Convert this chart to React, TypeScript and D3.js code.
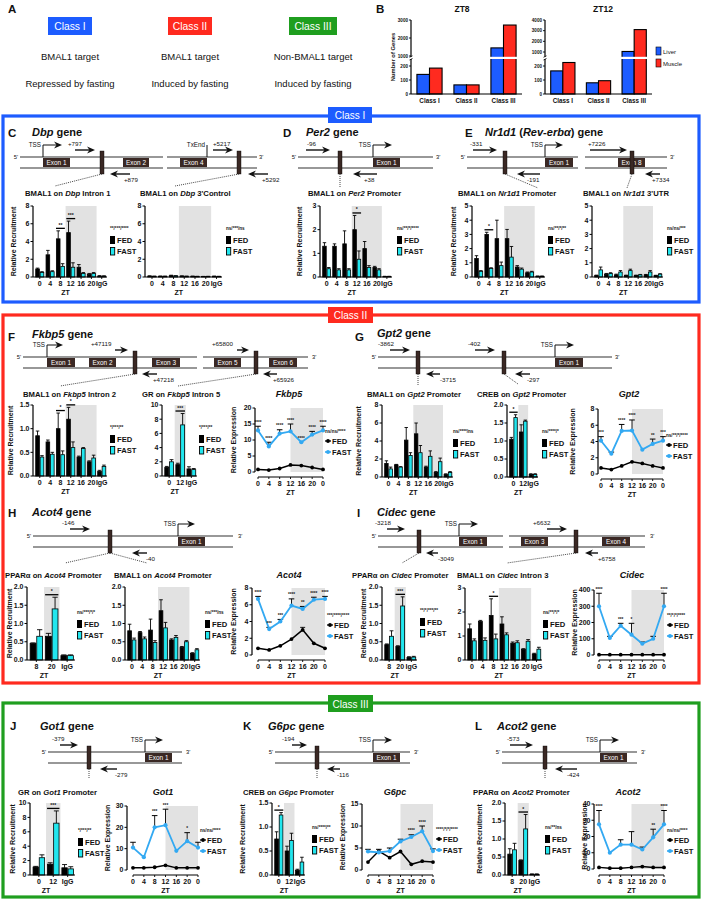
import React from "react";
import * as d3 from "d3";

const FONT = "Arial, 'Liberation Sans', Helvetica, sans-serif";
const CYAN = "#22e6ee";
const LBLUE = "#33a9f2";
const SHADE = "#e2e2e2";
const BROWN = "#3a2824";
const BLUE = "#1d5cff";
const RED = "#ff2a1f";
const GREEN = "#1f9e1f";

// ---------- Panel B data ----------
const bClasses = ["Class I", "Class II", "Class III"];
const zt8Liver = [140, 65, 1450];
const zt8Muscle = [185, 65, 2720];
const zt12Liver = [165, 80, 1050];
const zt12Muscle = [225, 95, 3100];
const bLowerTicks = [0, 100, 200];
const zt8UpperTicks = [1000, 2000, 3000];
const zt12UpperTicks = [1000, 2000, 3000, 4000];

// ---------- categories ----------
const ztBar = ["0", "4", "8", "12", "16", "20", "IgG"];
const ztBar3 = ["0", "12", "IgG"];
const ztBar8 = ["8", "20", "IgG"];
const ztLine = ["0", "4", "8", "12", "16", "20", "0"];

// ---------- C ----------
const dbpIntronFed = [0.9, 2.5, 4.3, 5.0, 1.1, 0.3, 0.1];
const dbpIntronFedErr = [0.1, 0.5, 0.9, 1.3, 0.3, 0.1, 0.05];
const dbpIntronFast = [0.5, 0.6, 1.2, 1.1, 0.4, 0.4, 0.1];
const dbpIntronFastErr = [0.1, 0.1, 0.3, 0.5, 0.1, 0.1, 0.03];
const dbpCtrlFed = [0.1, 0.08, 0.15, 0.1, 0.08, 0.05, 0.08];
const dbpCtrlFedErr = [0.03, 0.03, 0.05, 0.03, 0.02, 0.02, 0.02];
const dbpCtrlFast = [0.08, 0.08, 0.12, 0.08, 0.06, 0.06, 0.06];
const dbpCtrlFastErr = [0.02, 0.02, 0.03, 0.02, 0.02, 0.02, 0.02];
// ---------- D ----------
const per2Fed = [1.3, 1.3, 1.4, 2.0, 1.2, 0.4, 0.02];
const per2FedErr = [0.15, 0.1, 0.55, 0.6, 0.3, 0.05, 0.01];
const per2Fast = [0.35, 0.3, 0.3, 0.75, 0.4, 0.3, 0.02];
const per2FastErr = [0.05, 0.05, 0.05, 0.35, 0.08, 0.05, 0.01];
// ---------- E ----------
const nr1d1PromFed = [1.3, 3.0, 2.7, 2.7, 0.7, 0.3, 0.05];
const nr1d1PromFedErr = [0.2, 0.15, 1.3, 0.65, 0.1, 0.05, 0.02];
const nr1d1PromFast = [0.4, 0.6, 0.8, 1.4, 0.55, 0.35, 0.05];
const nr1d1PromFastErr = [0.05, 0.05, 0.25, 0.75, 0.08, 0.05, 0.02];
const nr1d1UtrFed = [0.1, 0.2, 0.15, 0.1, 0.1, 0.15, 0.1];
const nr1d1UtrFedErr = [0.03, 0.05, 0.05, 0.03, 0.03, 0.03, 0.02];
const nr1d1UtrFast = [0.5, 0.25, 0.35, 0.45, 0.15, 0.35, 0.2];
const nr1d1UtrFastErr = [0.2, 0.05, 0.1, 0.1, 0.03, 0.1, 0.03];
// ---------- F ----------
const fkbp5In2Fed = [0.85, 0.72, 1.0, 1.2, 0.4, 0.3, 0.1];
const fkbp5In2FedErr = [0.1, 0.04, 0.33, 0.25, 0.02, 0.02, 0.02];
const fkbp5In2Fast = [0.4, 0.46, 0.45, 0.6, 0.58, 0.38, 0.2];
const fkbp5In2FastErr = [0.03, 0.04, 0.08, 0.12, 0.02, 0.06, 0.03];
const fkbp5In5Fed = [1.2, 1.6, 1.0];
const fkbp5In5FedErr = [0.15, 0.2, 0.3];
const fkbp5In5Fast = [2.0, 7.2, 0.9];
const fkbp5In5FastErr = [0.3, 1.6, 0.15];
const fkbp5ExpFed = [0.8, 0.6, 1.1, 2.2, 2.0, 1.4, 0.8];
const fkbp5ExpFast = [13, 8, 12, 12.7, 9.3, 11.7, 13];
const fkbp5ExpFastErr = [1.3, 1.3, 1.2, 2.3, 0, 1, 1.3];
// ---------- G ----------
const gpt2BmalFed = [1.5, 1.35, 4.1, 4.8, 1.1, 0.5, 0.3];
const gpt2BmalFedErr = [0.3, 0.05, 1.4, 1.2, 0.1, 0.1, 0.05];
const gpt2BmalFast = [0.9, 1.1, 2.4, 2.7, 2.3, 1.7, 0.5];
const gpt2BmalFastErr = [0.2, 0.05, 0.3, 0.8, 0.6, 0.4, 0.1];
const gpt2CrebFed = [1.05, 1.25, 0.07];
const gpt2CrebFedErr = [0.05, 0.2, 0.02];
const gpt2CrebFast = [1.65, 1.55, 0.07];
const gpt2CrebFastErr = [0.08, 0.03, 0.02];
const gpt2ExpFed = [0.75, 0.55, 1.0, 1.5, 1.3, 1.0, 0.75];
const gpt2ExpFast = [4.1, 2.5, 5.3, 5.35, 3.0, 3.7, 4.1];
const gpt2ExpFastErr = [0.5, 0.2, 0.8, 1.3, 0, 0.6, 0.5];
// ---------- H ----------
const acot4PparFed = [0.45, 0.65, 0.12];
const acot4PparFedErr = [0.02, 0.08, 0.02];
const acot4PparFast = [0.65, 1.4, 0.12];
const acot4PparFastErr = [0.18, 0.32, 0.02];
const acot4BmalFed = [0.8, 0.75, 0.82, 1.35, 0.55, 0.35, 0.18];
const acot4BmalFedErr = [0.18, 0.03, 0.3, 0.3, 0.03, 0.02, 0.02];
const acot4BmalFast = [0.55, 0.58, 0.48, 0.88, 0.62, 0.5, 0.28];
const acot4BmalFastErr = [0.05, 0.05, 0.05, 0.15, 0.05, 0.03, 0.03];
const acot4ExpFed = [0.8, 0.6, 1.1, 1.9, 3.0, 1.4, 0.8];
const acot4ExpFedErr = [0, 0, 0, 0, 0.3, 0, 0];
const acot4ExpFast = [6.7, 3.1, 4.0, 5.9, 5.5, 6.6, 6.7];
const acot4ExpFastErr = [0.3, 0.2, 0.25, 0.8, 0.3, 0.3, 0.3];
// ---------- I ----------
const cidecPparFed = [0.42, 0.37, 0.07];
const cidecPparFedErr = [0.02, 0.02, 0.02];
const cidecPparFast = [0.65, 1.48, 0.08];
const cidecPparFastErr = [0.15, 0.25, 0.02];
const cidecBmalFed = [1.3, 1.6, 1.85, 1.5, 0.7, 0.45, 0.25];
const cidecBmalFedErr = [0.2, 0.05, 0.7, 0.3, 0.05, 0.02, 0.03];
const cidecBmalFast = [0.8, 0.82, 0.88, 1.05, 0.72, 0.78, 0.45];
const cidecBmalFastErr = [0.08, 0.1, 0.2, 0.08, 0.08, 0.07, 0.08];
const cidecExpFed = [2, 2, 2, 2, 2, 2, 2];
const cidecExpFast = [300, 105, 180, 125, 70, 100, 300];
const cidecExpFastErr = [80, 10, 15, 70, 10, 15, 80];
// ---------- J ----------
const got1GrFed = [1.1, 1.5, 1.0];
const got1GrFedErr = [0.1, 0.2, 0.45];
const got1GrFast = [2.4, 7.2, 0.85];
const got1GrFastErr = [0.4, 1.7, 0.3];
const got1ExpFed = [1, 1, 1.3, 2.2, 1, 1, 1];
const got1ExpFast = [10.5, 6, 20, 21, 9, 13.5, 10.5];
const got1ExpFastErr = [2.5, 0, 5.5, 7.5, 0, 4, 2.5];
// ---------- K ----------
const g6pcCrebFed = [0.75, 0.5, 0.1];
const g6pcCrebFedErr = [0.15, 0.1, 0.02];
const g6pcCrebFast = [1.25, 0.72, 0.27];
const g6pcCrebFastErr = [0.05, 0.15, 0.1];
const g6pcExpFed = [1.8, 4.3, 2.8, 4.2, 1.3, 2.0, 1.8];
const g6pcExpFast = [4.2, 4.0, 4.3, 6.5, 7.5, 8.8, 4.3];
const g6pcExpFastErr = [0.5, 0.7, 0.7, 0.5, 0.5, 1.2, 0.5];
// ---------- L ----------
const acot2PparFed = [0.58, 0.4, 0.02];
const acot2PparFedErr = [0.15, 0.02, 0.01];
const acot2PparFast = [0.7, 1.28, 0.02];
const acot2PparFastErr = [0.18, 0.4, 0.01];
const acot2ExpFed = [1, 0.5, 0.5, 1, 1.5, 1, 1];
const acot2ExpFast = [27.5, 10, 15, 15, 12, 19.5, 27.5];
const acot2ExpFastErr = [8.5, 0, 3, 8, 1.5, 5, 8.5];

// ---------- helpers ----------
function Title({ x, y, parts, anchor = "start", size = 7.7 }: any) {
  return (
    <text x={x} y={y} fontSize={size} fontWeight="bold" textAnchor={anchor}>
      {parts.map((p: any, i: number) => (
        <tspan key={i} fontStyle={p[1] ? "italic" : "normal"}>{p[0]}</tspan>
      ))}
    </text>
  );
}

function YLabel({ x, y, text }: any) {
  return (
    <text transform={`translate(${x},${y}) rotate(-90)`} fontSize={7} fontWeight="bold" textAnchor="middle">
      {text}
    </text>
  );
}

function BarLegend({ x, y, sig }: any) {
  return (
    <g>
      <text x={x} y={y + 1.5} fontSize={4.6} fontWeight="bold">{sig}</text>
      <rect x={x} y={y + 8} width={5} height={8} fill="#000" />
      <text x={x + 7} y={y + 15} fontSize={7.6} fontWeight="bold">FED</text>
      <rect x={x + 0.5} y={y + 19.5} width={4.2} height={7.5} fill={CYAN} stroke="#000" strokeWidth={0.9} />
      <text x={x + 7} y={y + 26} fontSize={7.6} fontWeight="bold">FAST</text>
    </g>
  );
}

function LineLegend({ x, y, sig }: any) {
  return (
    <g>
      <text x={x} y={y + 1.5} fontSize={4.6} fontWeight="bold">{sig}</text>
      <line x1={x} x2={x + 6} y1={y + 10} y2={y + 10} stroke="#000" strokeWidth={1.3} />
      <circle cx={x + 3} cy={y + 10} r={1.9} fill="#000" />
      <text x={x + 7} y={y + 12.7} fontSize={7.6} fontWeight="bold">FED</text>
      <line x1={x} x2={x + 6} y1={y + 21} y2={y + 21} stroke={LBLUE} strokeWidth={1.6} />
      <circle cx={x + 3} cy={y + 21} r={2} fill={LBLUE} />
      <text x={x + 7} y={y + 23.7} fontSize={7.6} fontWeight="bold">FAST</text>
    </g>
  );
}

function BarChart(p: any) {
  const y = d3.scaleLinear().domain([0, p.ymax]).range([p.bottom, p.top]);
  const ids = p.cats.map((_: string, i: number) => String(i));
  const xb = d3.scaleBand().domain(ids).range([p.x + 1.5, p.x + p.w]).paddingInner(0.14).paddingOuter(0.08);
  const bw = xb.bandwidth();
  const gap = (xb.step() - bw) / 2;
  const X = (i: number) => xb(String(i)) as number;
  const fmt = p.fmt ? d3.format(p.fmt) : (v: number) => String(v);
  const nz = p.cats.filter((c: string) => c !== "IgG").length;
  const ztX = (X(0) + X(nz - 1) + bw) / 2;
  const hw = bw / 2;
  const s0 = X(p.shade[0]) - gap;
  const s1 = X(p.shade[1]) + bw + gap;
  return (
    <g>
      <rect x={s0} y={p.top} width={s1 - s0} height={p.bottom - p.top} fill={SHADE} />
      {p.cats.map((_: string, i: number) => {
        const x0 = X(i);
        const bars: any[] = [
          [p.fed[i], p.fedErr[i], "#000", x0],
          [p.fast[i], p.fastErr[i], CYAN, x0 + hw],
        ];
        return (
          <g key={i}>
            {bars.map(([v, e, col, bx]: any, k: number) => (
              <g key={k}>
                <line x1={bx + hw / 2} x2={bx + hw / 2} y1={y(v)} y2={y(v + e)} stroke="#000" strokeWidth={0.9} />
                <line x1={bx + hw / 2 - hw * 0.4} x2={bx + hw / 2 + hw * 0.4} y1={y(v + e)} y2={y(v + e)} stroke="#000" strokeWidth={0.9} />
                <rect x={bx + 0.4} y={y(v)} width={hw - 0.8} height={p.bottom - y(v)} fill={col} stroke="#000" strokeWidth={0.8} />
              </g>
            ))}
          </g>
        );
      })}
      {(p.sig || []).map(([i, t]: any, k: number) => {
        const top = Math.max(p.fed[i] + p.fedErr[i], p.fast[i] + p.fastErr[i]);
        const yy = y(top) - 2.5;
        return (
          <g key={k}>
            <line x1={X(i)} x2={X(i) + bw} y1={yy} y2={yy} stroke="#000" strokeWidth={1.3} />
            <text x={X(i) + bw / 2} y={yy - 1.5} fontSize={5} fontWeight="bold" textAnchor="middle">{t}</text>
          </g>
        );
      })}
      <line x1={p.x} x2={p.x} y1={p.bottom} y2={p.top} stroke="#000" strokeWidth={1.2} />
      {p.ticks.map((t: number) => (
        <g key={t}>
          <line x1={p.x - 2.5} x2={p.x} y1={y(t)} y2={y(t)} stroke="#000" strokeWidth={1} />
          <text x={p.x - 3.5} y={y(t) + 2.4} fontSize={7} fontWeight="bold" textAnchor="end">{fmt(t)}</text>
        </g>
      ))}
      <line x1={p.x} x2={p.x + p.w} y1={p.bottom} y2={p.bottom} stroke="#000" strokeWidth={1.2} />
      {p.cats.map((c: string, i: number) => (
        <g key={i}>
          <line x1={X(i) + bw / 2} x2={X(i) + bw / 2} y1={p.bottom} y2={p.bottom + 2} stroke="#000" strokeWidth={0.9} />
          <text x={X(i) + bw / 2} y={p.bottom + 9} fontSize={7} fontWeight="bold" textAnchor="middle">{c}</text>
        </g>
      ))}
      <text x={ztX} y={p.bottom + 17.5} fontSize={7} fontWeight="bold" textAnchor="middle">ZT</text>
      {p.ylab !== undefined && <YLabel x={p.ylab} y={(p.top + p.bottom) / 2} text="Relative Recruitment" />}
      <Title x={p.title[0]} y={p.title[1]} parts={p.title[2]} />
      <BarLegend x={p.legend[0]} y={p.legend[1]} sig={p.legend[2]} />
    </g>
  );
}

function LineChart(p: any) {
  const y = d3.scaleLinear().domain([0, p.ymax]).range([p.bottom, p.top]);
  const xs = d3.scalePoint().domain(ztLine.map((_, i) => String(i))).range([p.xa, p.xb]);
  const X = (i: number) => xs(String(i)) as number;
  const line = d3.line<number>().x((_, i) => X(i)).y((v) => y(v));
  const fedErr = p.fedErr || p.fed.map(() => 0);
  return (
    <g>
      <rect x={X(3)} y={p.top} width={X(6) - X(3)} height={p.bottom - p.top} fill={SHADE} />
      <path d={line(p.fed) as string} fill="none" stroke="#000" strokeWidth={1.5} />
      {p.fed.map((v: number, i: number) => (
        <g key={i}>
          {fedErr[i] > 0 && (
            <g>
              <line x1={X(i)} x2={X(i)} y1={y(v)} y2={y(v + fedErr[i])} stroke="#000" strokeWidth={0.9} />
              <line x1={X(i) - 2.5} x2={X(i) + 2.5} y1={y(v + fedErr[i])} y2={y(v + fedErr[i])} stroke="#000" strokeWidth={0.9} />
            </g>
          )}
          <circle cx={X(i)} cy={y(v)} r={1.9} fill="#000" />
        </g>
      ))}
      {p.fast.map((v: number, i: number) =>
        p.fastErr[i] > 0 ? (
          <g key={i}>
            <line x1={X(i)} x2={X(i)} y1={y(v)} y2={y(v + p.fastErr[i])} stroke="#000" strokeWidth={0.9} />
            <line x1={X(i) - 2.8} x2={X(i) + 2.8} y1={y(v + p.fastErr[i])} y2={y(v + p.fastErr[i])} stroke="#000" strokeWidth={1} />
          </g>
        ) : null
      )}
      <path d={line(p.fast) as string} fill="none" stroke={LBLUE} strokeWidth={1.8} />
      {p.fast.map((v: number, i: number) => (
        <circle key={i} cx={X(i)} cy={y(v)} r={2.1} fill={LBLUE} />
      ))}
      {p.sig.map(([i, t]: any, k: number) => (
        <text key={k} x={X(i)} y={y(p.fast[i] + p.fastErr[i]) - 2.5} fontSize={4.6} fontWeight="bold" textAnchor="middle">{t}</text>
      ))}
      <line x1={p.x} x2={p.x} y1={p.bottom} y2={p.top} stroke="#000" strokeWidth={1.2} />
      {p.ticks.map((t: number) => (
        <g key={t}>
          <line x1={p.x - 2.5} x2={p.x} y1={y(t)} y2={y(t)} stroke="#000" strokeWidth={1} />
          <text x={p.x - 3.5} y={y(t) + 2.4} fontSize={7} fontWeight="bold" textAnchor="end">{t}</text>
        </g>
      ))}
      <line x1={p.xa} x2={p.xb} y1={p.axisY} y2={p.axisY} stroke="#000" strokeWidth={1.2} />
      {ztLine.map((c, i) => (
        <g key={i}>
          <line x1={X(i)} x2={X(i)} y1={p.axisY} y2={p.axisY + 2} stroke="#000" strokeWidth={0.9} />
          <text x={X(i)} y={p.axisY + 9} fontSize={7} fontWeight="bold" textAnchor="middle">{c}</text>
        </g>
      ))}
      <text x={(p.xa + p.xb) / 2} y={p.axisY + 17.5} fontSize={7} fontWeight="bold" textAnchor="middle">ZT</text>
      <YLabel x={p.ylab} y={(p.top + p.bottom) / 2} text="Relative Expression" />
      <text x={p.title[0]} y={p.title[1]} fontSize={9} fontWeight="bold" fontStyle="italic" textAnchor="middle">{p.title[2]}</text>
      <LineLegend x={p.legend[0]} y={p.legend[1]} sig={p.legend[2]} />
    </g>
  );
}

function Gene({ g }: any) {
  const y0 = g.y0;
  const y1 = g.y0 + 11;
  const head = (tx: number, ty: number, dir: number) =>
    `M${tx},${ty} L${tx - dir * 8},${ty - 3.5} L${tx - dir * 5.5},${ty} L${tx - dir * 8},${ty + 3.5}Z`;
  return (
    <g>
      {g.segs.map(([a, b]: any, i: number) => (
        <g key={i}>
          <line x1={a} x2={b} y1={y0} y2={y0} stroke="#333" strokeWidth={1.2} />
          <line x1={a} x2={b} y1={y1} y2={y1} stroke="#333" strokeWidth={1.2} />
        </g>
      ))}
      <text x={g.five} y={y0 + 2} fontSize={5.8} textAnchor="end">5'</text>
      <text x={g.three} y={y0 + 2} fontSize={5.8}>3'</text>
      {g.exons.map(([a, b, l]: any, i: number) => (
        <g key={i}>
          <rect x={a} y={y0 + 1} width={b - a} height={9} fill={BROWN} />
          <text x={(a + b) / 2} y={y0 + 7.8} fontSize={6.4} fill="#fff" textAnchor="middle">{l}</text>
        </g>
      ))}
      {g.dots.map(([a, b, c, d]: any, i: number) => (
        <line key={i} x1={a} y1={b} x2={c} y2={d} stroke="#333" strokeWidth={0.9} strokeDasharray="1 1" />
      ))}
      {g.sites.map((x: number, i: number) => (
        <rect key={i} x={x - 2} y={y0 - 6} width={4} height={23} fill={BROWN} stroke="#000" strokeWidth={0.4} />
      ))}
      {g.tss.map((t: any, i: number) => (
        <g key={i}>
          <path d={`M${t.x},${y0} V${y0 - 12}` + (t.arrow ? ` H${t.x2 - 5}` : "")} fill="none" stroke="#111" strokeWidth={1} />
          {t.arrow && <path d={head(t.x2, y0 - 12, 1)} fill="#111" />}
          <text x={t.x - 2} y={y0 - 10} fontSize={6.3} textAnchor="end">{t.label}</text>
        </g>
      ))}
      {g.fwd.map((a: any, i: number) => (
        <g key={i}>
          <line x1={a.x1} x2={a.x2 - 5} y1={y0 - 7} y2={y0 - 7} stroke="#111" strokeWidth={1.4} />
          <path d={head(a.x2, y0 - 7, 1)} fill="#111" />
          <text x={a.lx} y={y0 - 11} fontSize={6.2}>{a.label}</text>
        </g>
      ))}
      {g.rev.map((a: any, i: number) => (
        <g key={i}>
          <line x1={a.x1 + 5} x2={a.x2} y1={y0 + 17} y2={y0 + 17} stroke="#111" strokeWidth={1.4} />
          <path d={head(a.x1, y0 + 17, -1)} fill="#111" />
          <text x={a.lx} y={y0 + 25} fontSize={6.2}>{a.label}</text>
        </g>
      ))}
    </g>
  );
}

const tss = (x: number, x2: number) => ({ x, x2, label: "TSS", arrow: true });

const geneC = {
  y0: 157, segs: [[20, 163], [167, 257]], five: 18, three: 259,
  exons: [[43, 70, "Exon 1"], [123, 149, "Exon 2"], [180, 207, "Exon 4"]], sites: [102, 239],
  tss: [tss(43, 62), { x: 207, x2: 207, label: "TxEnd", arrow: false }],
  fwd: [{ x1: 75, x2: 95, label: "+797", lx: 68 }, { x1: 213, x2: 233, label: "+5217", lx: 213 }],
  rev: [{ x1: 110, x2: 130, label: "+879", lx: 124 }, { x1: 248, x2: 268, label: "+5292", lx: 262 }],
  dots: [[102, 174, 55, 186], [239, 174, 175, 186]],
};
const geneD = {
  y0: 157, segs: [[298, 433]], five: 296, three: 436, exons: [[373, 400, "Exon 1"]], sites: [340],
  tss: [tss(373, 392)], fwd: [{ x1: 306, x2: 330, label: "-96", lx: 307 }],
  rev: [{ x1: 353, x2: 377, label: "+38", lx: 364 }], dots: [[340, 174, 340, 187]],
};
const geneE = {
  y0: 157, segs: [[467, 578], [585, 667]], five: 465, three: 670,
  exons: [[545, 573, "Exon 1"], [618, 645, "Exon 8"]], sites: [505, 632], tss: [tss(545, 563)],
  fwd: [{ x1: 473, x2: 497, label: "-331", lx: 470 }, { x1: 590, x2: 627, label: "+7226", lx: 588 }],
  rev: [{ x1: 517, x2: 540, label: "-191", lx: 527 }, { x1: 645, x2: 660, label: "+7334", lx: 652 }],
  dots: [[505, 174, 538, 188], [632, 174, 627, 188]],
};
const geneF = {
  y0: 357, segs: [[23, 197], [203, 308]], five: 21, three: 312,
  exons: [[47, 75, "Exon 1"], [89, 116, "Exon 2"], [152, 180, "Exon 3"], [214, 241, "Exon 5"], [269, 297, "Exon 6"]],
  sites: [135, 256], tss: [tss(47, 63)],
  fwd: [{ x1: 115, x2: 128, label: "+47119", lx: 91 }, { x1: 237, x2: 249, label: "+65800", lx: 212 }],
  rev: [{ x1: 142, x2: 157, label: "+47218", lx: 153 }, { x1: 263, x2: 277, label: "+65926", lx: 273 }],
  dots: [[135, 374, 60, 386], [256, 374, 178, 386]],
};
const geneG = {
  y0: 357, segs: [[378, 612]], five: 376, three: 615, exons: [[555, 583, "Exon 1"]], sites: [418, 504],
  tss: [tss(555, 574)],
  fwd: [{ x1: 390, x2: 410, label: "-3862", lx: 378 }, { x1: 475, x2: 495, label: "-402", lx: 468 }],
  rev: [{ x1: 426, x2: 440, label: "-3715", lx: 440 }, { x1: 515, x2: 530, label: "-297", lx: 527 }],
  dots: [[418, 374, 418, 386], [504, 374, 518, 384]],
};
const geneH = {
  y0: 536, segs: [[33, 233]], five: 31, three: 238, exons: [[178, 205, "Exon 1"]], sites: [110],
  tss: [tss(178, 195)], fwd: [{ x1: 70, x2: 90, label: "-146", lx: 62 }],
  rev: [{ x1: 132, x2: 147, label: "-40", lx: 146 }], dots: [[110, 553, 65, 563], [110, 553, 147, 563]],
};
const geneI = {
  y0: 536, segs: [[378, 503], [509, 645]], five: 376, three: 650,
  exons: [[459, 487, "Exon 1"], [521, 548, "Exon 3"], [602, 630, "Exon 4"]], sites: [419, 576],
  tss: [tss(459, 478)],
  fwd: [{ x1: 387, x2: 405, label: "-3218", lx: 375 }, { x1: 547, x2: 567, label: "+6632", lx: 533 }],
  rev: [{ x1: 426, x2: 438, label: "-3049", lx: 438 }, { x1: 585, x2: 598, label: "+6758", lx: 598 }],
  dots: [[419, 553, 402, 563], [576, 553, 507, 563]],
};
const geneJ = {
  y0: 752, segs: [[48, 182]], five: 46, three: 186, exons: [[145, 172, "Exon 1"]], sites: [89],
  tss: [tss(145, 163)], fwd: [{ x1: 60, x2: 78, label: "-379", lx: 52 }],
  rev: [{ x1: 100, x2: 117, label: "-279", lx: 115 }], dots: [[89, 769, 89, 778]],
};
const geneK = {
  y0: 752, segs: [[275, 410]], five: 273, three: 414, exons: [[373, 400, "Exon 1"]], sites: [317],
  tss: [tss(373, 392)], fwd: [{ x1: 292, x2: 307, label: "-194", lx: 282 }],
  rev: [{ x1: 327, x2: 340, label: "-116", lx: 337 }], dots: [[317, 769, 317, 778]],
};
const geneL = {
  y0: 752, segs: [[502, 637]], five: 500, three: 641, exons: [[600, 627, "Exon 1"]], sites: [545],
  tss: [tss(600, 619)], fwd: [{ x1: 510, x2: 533, label: "-573", lx: 507 }],
  rev: [{ x1: 555, x2: 577, label: "-424", lx: 567 }], dots: [[545, 769, 545, 778]],
};

function PanelB({ x0, w, title, titleX, liver, muscle, upperTicks, upperMax, upperBottom }: any) {
  const yLow = d3.scaleLinear().domain([0, 200]).range([94, 66]);
  const yUp = d3.scaleLinear().domain([1000, upperMax]).range([upperBottom, 20]);
  const xb = d3.scaleBand().domain(bClasses).range([x0, x0 + w]).paddingInner(0.32).paddingOuter(0.16);
  const bw = xb.bandwidth();
  const yv = (v: number) => (v > 1000 ? yUp(v) : yLow(v));
  return (
    <g>
      <text x={titleX} y={12} fontSize={8.5} fontWeight="bold" textAnchor="middle">{title}</text>
      {bClasses.map((c, i) => {
        const bx = xb(c) as number;
        return (
          <g key={c}>
            <rect x={bx} y={yv(liver[i])} width={bw / 2} height={94 - yv(liver[i])} fill={BLUE} stroke="#000" strokeWidth={1.1} />
            <rect x={bx + bw / 2} y={yv(muscle[i])} width={bw / 2} height={94 - yv(muscle[i])} fill={RED} stroke="#000" strokeWidth={1.1} />
            <text x={bx + bw / 2} y={103} fontSize={6.3} fontWeight="bold" textAnchor="middle">{c}</text>
          </g>
        );
      })}
      <rect x={x0 - 3} y={56.8} width={w + 3} height={2.2} fill="#fff" />
      <line x1={x0} x2={x0} y1={94} y2={59} stroke="#000" strokeWidth={1.2} />
      <line x1={x0} x2={x0} y1={56.8} y2={20} stroke="#000" strokeWidth={1.2} />
      <line x1={x0 - 1.5} x2={x0 + 1.5} y1={60} y2={58.5} stroke="#000" strokeWidth={0.8} />
      <line x1={x0 - 1.5} x2={x0 + 1.5} y1={57.3} y2={55.8} stroke="#000" strokeWidth={0.8} />
      <line x1={x0} x2={x0 + w} y1={94} y2={94} stroke="#000" strokeWidth={1.2} />
      {bLowerTicks.map((t) => (
        <g key={t}>
          <line x1={x0 - 2} x2={x0} y1={yLow(t)} y2={yLow(t)} stroke="#000" strokeWidth={0.9} />
          <text x={x0 - 3} y={yLow(t) + 1.6} fontSize={4.6} fontWeight="bold" textAnchor="end">{t}</text>
        </g>
      ))}
      {upperTicks.map((t: number) => (
        <g key={t}>
          <line x1={x0 - 2} x2={x0} y1={yUp(t)} y2={yUp(t)} stroke="#000" strokeWidth={0.9} />
          <text x={x0 - 3} y={yUp(t) + 1.6} fontSize={4.6} fontWeight="bold" textAnchor="end">{t}</text>
        </g>
      ))}
    </g>
  );
}

export default function App() {
  return (
    <svg width={702} height={900} style={{ position: "absolute", left: 0, top: 0, fontFamily: FONT }} fill="#111">
      <rect x={0} y={0} width={702} height={900} fill="#fff" />

      {/* Panel A */}
      <text x={8} y={13} fontSize={11.5} fontWeight="bold">A</text>
      {[
        [70, 44, "Class I", BLUE, "BMAL1 target", "Repressed by fasting"],
        [190, 44, "Class II", RED, "BMAL1 target", "Induced by fasting"],
        [313, 48, "Class III", GREEN, "Non-BMAL1 target", "Induced by fasting"],
      ].map(([cx, bw, lab, col, l1, l2]: any) => (
        <g key={lab}>
          <rect x={cx - bw / 2} y={17} width={bw} height={18} fill={col} />
          <text x={cx} y={29.8} fontSize={10.3} fill="#fff" textAnchor="middle">{lab}</text>
          <text x={cx} y={60} fontSize={9.5} textAnchor="middle">{l1}</text>
          <text x={cx} y={87} fontSize={9.5} textAnchor="middle">{l2}</text>
        </g>
      ))}

      {/* Panel B */}
      <text x={376} y={13} fontSize={11.5} fontWeight="bold">B</text>
      <text transform="translate(395,57) rotate(-90)" fontSize={5.8} fontWeight="bold" textAnchor="middle">Number of Genes</text>
      <PanelB x0={411} w={111} title="ZT8" titleX={462} liver={zt8Liver} muscle={zt8Muscle} upperTicks={zt8UpperTicks} upperMax={3000} upperBottom={56} />
      <PanelB x0={545} w={107} title="ZT12" titleX={603} liver={zt12Liver} muscle={zt12Muscle} upperTicks={zt12UpperTicks} upperMax={4000} upperBottom={52} />
      <rect x={656} y={47} width={5} height={8} fill={BLUE} stroke="#000" strokeWidth={0.6} />
      <text x={663} y={54} fontSize={6}>Liver</text>
      <rect x={656} y={59} width={5} height={8} fill={RED} stroke="#000" strokeWidth={0.6} />
      <text x={663} y={66} fontSize={6}>Muscle</text>

      {/* Class frames */}
      <rect x={3} y={116} width={696} height={186} fill="none" stroke={BLUE} strokeWidth={3.2} />
      <rect x={328} y={107} width={44} height={16} fill={BLUE} />
      <text x={350} y={119} fontSize={10} fill="#fff" textAnchor="middle">Class I</text>
      <rect x={3} y={315} width={696} height={368} fill="none" stroke={RED} strokeWidth={3.2} />
      <rect x={328} y={307} width={45} height={16} fill={RED} />
      <text x={350.5} y={319} fontSize={10} fill="#fff" textAnchor="middle">Class II</text>
      <rect x={3} y={703} width={696} height={194} fill="none" stroke={GREEN} strokeWidth={3.2} />
      <rect x={328} y={695} width={45} height={17} fill={GREEN} />
      <text x={350.5} y={707.5} fontSize={10} fill="#fff" textAnchor="middle">Class III</text>

      {/* Row C-E */}
      <text x={8} y={137} fontSize={11.5} fontWeight="bold">C</text>
      <Title x={32} y={136} size={11} parts={[["Dbp", true], [" gene", false]]} />
      <text x={283} y={137} fontSize={11.5} fontWeight="bold">D</text>
      <Title x={306} y={136} size={11} parts={[["Per2", true], [" gene", false]]} />
      <text x={465} y={137} fontSize={11.5} fontWeight="bold">E</text>
      <Title x={485} y={136} size={11} parts={[["Nr1d1", true], [" (", false], ["Rev-erbα", true], [") gene", false]]} />
      <Gene g={geneC} />
      <Gene g={geneD} />
      <Gene g={geneE} />
      <BarChart x={33} w={74} top={206} bottom={277} ymax={8} ticks={[0, 2, 4, 6, 8]} cats={ztBar}
        fed={dbpIntronFed} fedErr={dbpIntronFedErr} fast={dbpIntronFast} fastErr={dbpIntronFastErr}
        shade={[3, 5]} sig={[[2, "**"], [3, "***"]]} ylab={16}
        title={[25, 196, [["BMAL1 on ", false], ["Dbp", true], [" Intron 1", false]]]} legend={[110, 228, "**/***/****"]} />
      <BarChart x={145} w={77} top={206} bottom={277} ymax={8} ticks={[0, 2, 4, 6, 8]} cats={ztBar}
        fed={dbpCtrlFed} fedErr={dbpCtrlFedErr} fast={dbpCtrlFast} fastErr={dbpCtrlFastErr}
        shade={[3, 5]} title={[140, 196, [["BMAL1 on ", false], ["Dbp", true], [" 3'Control", false]]]} legend={[226, 228, "ns/***/ns"]} />
      <BarChart x={320} w={72} top={206} bottom={277} ymax={3} ticks={[0, 1, 2, 3]} cats={ztBar}
        fed={per2Fed} fedErr={per2FedErr} fast={per2Fast} fastErr={per2FastErr}
        shade={[3, 5]} sig={[[3, "*"]]} ylab={302}
        title={[308, 196, [["BMAL1 on ", false], ["Per2", true], [" Promoter", false]]]} legend={[397, 228, "ns/**/*/****"]} />
      <BarChart x={472} w={73} top={206} bottom={277} ymax={5} ticks={[0, 1, 2, 3, 4, 5]} cats={ztBar}
        fed={nr1d1PromFed} fedErr={nr1d1PromFedErr} fast={nr1d1PromFast} fastErr={nr1d1PromFastErr}
        shade={[3, 5]} sig={[[1, "*"]]} ylab={456}
        title={[458, 196, [["BMAL1 on ", false], ["Nr1d1", true], [" Promoter", false]]]} legend={[548, 228, "ns/**/*/**"]} />
      <BarChart x={592} w={71} top={206} bottom={277} ymax={5} ticks={[0, 1, 2, 3, 4, 5]} cats={ztBar}
        fed={nr1d1UtrFed} fedErr={nr1d1UtrFedErr} fast={nr1d1UtrFast} fastErr={nr1d1UtrFastErr}
        shade={[3, 5]} title={[583, 196, [["BMAL1 on ", false], ["Nr1d1", true], [" 3'UTR", false]]]} legend={[667, 228, "ns/ns/***"]} />

      {/* Row F-G */}
      <text x={8} y={341} fontSize={11.5} fontWeight="bold">F</text>
      <Title x={32} y={338} size={11} parts={[["Fkbp5", true], [" gene", false]]} />
      <text x={355} y={341} fontSize={11.5} fontWeight="bold">G</text>
      <Title x={377} y={337} size={11} parts={[["Gpt2", true], [" gene", false]]} />
      <Gene g={geneF} />
      <Gene g={geneG} />
      <BarChart x={33} w={74} top={405} bottom={476} ymax={1.5} ticks={[0, 0.5, 1, 1.5]} fmt=".1f" cats={ztBar}
        fed={fkbp5In2Fed} fedErr={fkbp5In2FedErr} fast={fkbp5In2Fast} fastErr={fkbp5In2FastErr}
        shade={[3, 5]} sig={[[2, "*"], [3, "*"]]} ylab={13}
        title={[23, 397, [["BMAL1 on ", false], ["Fkbp5", true], [" Intron 2", false]]]} legend={[110, 427, "*/***/**"]} />
      <BarChart x={162} w={35} top={405} bottom={476} ymax={10} ticks={[0, 2, 4, 6, 8, 10]} cats={ztBar3}
        fed={fkbp5In5Fed} fedErr={fkbp5In5FedErr} fast={fkbp5In5Fast} fastErr={fkbp5In5FastErr}
        shade={[1, 1]} sig={[[1, "***"]]}
        title={[142, 397, [["GR on ", false], ["Fkbp5", true], [" Intron 5", false]]]} legend={[199, 427, "*/***/**"]} />
      <LineChart x={255} xa={258} xb={323} top={408} bottom={472} axisY={477} ymax={20} ticks={[0, 5, 10, 15, 20]}
        fed={fkbp5ExpFed} fast={fkbp5ExpFast} fastErr={fkbp5ExpFastErr}
        sig={[[0, "****"], [1, "****"], [2, "****"], [3, "****"], [4, "****"], [5, "****"], [6, "****"]]}
        ylab={236} title={[289, 397, "Fkbp5"]} legend={[325, 431, "ns/ns/****"]} />
      <BarChart x={382} w={71} top={405} bottom={477} ymax={8} ticks={[0, 2, 4, 6, 8]} cats={ztBar}
        fed={gpt2BmalFed} fedErr={gpt2BmalFedErr} fast={gpt2BmalFast} fastErr={gpt2BmalFastErr}
        shade={[3, 5]} ylab={361}
        title={[367, 397, [["BMAL1 on ", false], ["Gpt2", true], [" Promoter", false]]]} legend={[453, 431, "ns/****/ns"]} />
      <BarChart x={507} w={31} top={405} bottom={477} ymax={2} ticks={[0, 0.5, 1, 1.5, 2]} fmt=".1f" cats={ztBar3}
        fed={gpt2CrebFed} fedErr={gpt2CrebFedErr} fast={gpt2CrebFast} fastErr={gpt2CrebFastErr}
        shade={[1, 1]} sig={[[0, "*"]]}
        title={[477, 397, [["CREB on ", false], ["Gpt2", true], [" Promoter", false]]]} legend={[542, 431, "ns/****/*"]} />
      <LineChart x={598} xa={601} xb={663} top={409} bottom={474} axisY={479} ymax={8} ticks={[0, 2, 4, 6, 8]}
        fed={gpt2ExpFed} fast={gpt2ExpFast} fastErr={gpt2ExpFastErr}
        sig={[[0, "***"], [2, "****"], [3, "****"], [5, "**"], [6, "***"]]}
        ylab={575} title={[629, 397, "Gpt2"]} legend={[666, 435, "ns/**/*/****"]} />

      {/* Row H-I */}
      <text x={8} y={517} fontSize={11.5} fontWeight="bold">H</text>
      <Title x={32} y={516} size={11} parts={[["Acot4", true], [" gene", false]]} />
      <text x={357} y={517} fontSize={11.5} fontWeight="bold">I</text>
      <Title x={377} y={516} size={11} parts={[["Cidec", true], [" gene", false]]} />
      <Gene g={geneH} />
      <Gene g={geneI} />
      <BarChart x={27} w={48} top={587} bottom={660} ymax={2} ticks={[0, 0.5, 1, 1.5, 2]} fmt=".1f" cats={ztBar8}
        fed={acot4PparFed} fedErr={acot4PparFedErr} fast={acot4PparFast} fastErr={acot4PparFastErr}
        shade={[1, 1]} sig={[[1, "*"]]} ylab={12}
        title={[5, 578, [["PPARα on ", false], ["Acot4", true], [" Promoter", false]]]} legend={[77, 612, "ns/***/*/*"]} />
      <BarChart x={125} w={75} top={587} bottom={660} ymax={2} ticks={[0, 0.5, 1, 1.5, 2]} fmt=".1f" cats={ztBar}
        fed={acot4BmalFed} fedErr={acot4BmalFedErr} fast={acot4BmalFast} fastErr={acot4BmalFastErr}
        shade={[3, 5]}
        title={[114, 578, [["BMAL1 on ", false], ["Acot4", true], [" Promoter", false]]]} legend={[205, 612, "ns/***/ns"]} />
      <LineChart x={252} xa={258} xb={325} top={588} bottom={655} axisY={660} ymax={8} ticks={[0, 2, 4, 6, 8]}
        fed={acot4ExpFed} fedErr={acot4ExpFedErr} fast={acot4ExpFast} fastErr={acot4ExpFastErr}
        sig={[[0, "****"], [1, "***"], [2, "***"], [3, "****"], [4, "**"], [5, "****"], [6, "****"]]}
        ylab={236} title={[289, 578, "Acot4"]} legend={[327, 615, "***/****/****"]} />
      <BarChart x={382} w={35} top={587} bottom={660} ymax={2} ticks={[0, 0.5, 1, 1.5, 2]} fmt=".1f" cats={ztBar8}
        fed={cidecPparFed} fedErr={cidecPparFedErr} fast={cidecPparFast} fastErr={cidecPparFastErr}
        shade={[1, 1]} sig={[[1, "***"]]} ylab={366}
        title={[352, 578, [["PPARα on ", false], ["Cidec", true], [" Promoter", false]]]} legend={[420, 610, "**/*/***/**"]} />
      <BarChart x={465} w={77} top={588} bottom={660} ymax={3} ticks={[0, 1, 2, 3]} cats={ztBar}
        fed={cidecBmalFed} fedErr={cidecBmalFedErr} fast={cidecBmalFast} fastErr={cidecBmalFastErr}
        shade={[3, 5]} sig={[[2, "*"]]}
        title={[457, 578, [["BMAL1 on ", false], ["Cidec", true], [" Intron 3", false]]]} legend={[543, 612, "ns/**/*/*"]} />
      <LineChart x={594} xa={599} xb={664} top={590} bottom={655} axisY={660} ymax={400} ticks={[0, 100, 200, 300, 400]}
        fed={cidecExpFed} fast={cidecExpFast} fastErr={cidecExpFastErr}
        sig={[[0, "****"], [2, "***"], [3, "*"], [6, "****"]]}
        ylab={577} title={[632, 578, "Cidec"]} legend={[667, 615, "**/*/*/****"]} />

      {/* Row J-L */}
      <text x={10} y={730} fontSize={11.5} fontWeight="bold">J</text>
      <Title x={40} y={730} size={11} parts={[["Got1", true], [" gene", false]]} />
      <text x={243} y={730} fontSize={11.5} fontWeight="bold">K</text>
      <Title x={268} y={730} size={11} parts={[["G6pc", true], [" gene", false]]} />
      <text x={475} y={730} fontSize={11.5} fontWeight="bold">L</text>
      <Title x={497} y={730} size={11} parts={[["Acot2", true], [" gene", false]]} />
      <Gene g={geneJ} />
      <Gene g={geneK} />
      <Gene g={geneL} />
      <BarChart x={30} w={45} top={803} bottom={875} ymax={10} ticks={[0, 2, 4, 6, 8, 10]} cats={ztBar3}
        fed={got1GrFed} fedErr={got1GrFedErr} fast={got1GrFast} fastErr={got1GrFastErr}
        shade={[1, 1]} sig={[[1, "***"]]} ylab={15}
        title={[18, 795, [["GR on ", false], ["Got1", true], [" Promoter", false]]]} legend={[78, 830, "*/***/**"]} />
      <LineChart x={127} xa={133} xb={198} top={806} bottom={870} axisY={875} ymax={30} ticks={[0, 10, 20, 30]}
        fed={got1ExpFed} fast={got1ExpFast} fastErr={got1ExpFastErr}
        sig={[[2, "***"], [3, "***"], [5, "*"]]}
        ylab={110} title={[163, 795, "Got1"]} legend={[200, 830, "ns/ns/****"]} />
      <BarChart x={272} w={33} top={803} bottom={875} ymax={1.5} ticks={[0, 0.5, 1, 1.5]} fmt=".1f" cats={ztBar3}
        fed={g6pcCrebFed} fedErr={g6pcCrebFedErr} fast={g6pcCrebFast} fastErr={g6pcCrebFastErr}
        shade={[1, 1]} sig={[[0, "*"]]} ylab={245}
        title={[243, 795, [["CREB on ", false], ["G6pc", true], [" Promoter", false]]]} legend={[312, 827, "ns/****/**"]} />
      <LineChart x={362} xa={368} xb={433} top={804} bottom={870} axisY={875} ymax={15} ticks={[0, 5, 10, 15]}
        fed={g6pcExpFed} fast={g6pcExpFast} fastErr={g6pcExpFastErr}
        sig={[[4, "****"], [5, "****"]]}
        ylab={345} title={[395, 795, "G6pc"]} legend={[436, 829, "****/*/*/****"]} />
      <BarChart x={505} w={35} top={803} bottom={875} ymax={2} ticks={[0, 0.5, 1, 1.5, 2]} fmt=".1f" cats={ztBar8}
        fed={acot2PparFed} fedErr={acot2PparFedErr} fast={acot2PparFast} fastErr={acot2PparFastErr}
        shade={[1, 1]} sig={[[1, "*"]]} ylab={482}
        title={[473, 795, [["PPARα on ", false], ["Acot2", true], [" Promoter", false]]]} legend={[545, 827, "ns/**/ns"]} />
      <LineChart x={594} xa={599} xb={664} top={804} bottom={869} axisY={875} ymax={40} ticks={[0, 10, 20, 30, 40]}
        fed={acot2ExpFed} fast={acot2ExpFast} fastErr={acot2ExpFastErr}
        sig={[[0, "****"], [5, "**"], [6, "****"]]}
        ylab={587} title={[628, 795, "Acot2"]} legend={[667, 830, "ns/ns/****"]} />
    </svg>
  );
}
